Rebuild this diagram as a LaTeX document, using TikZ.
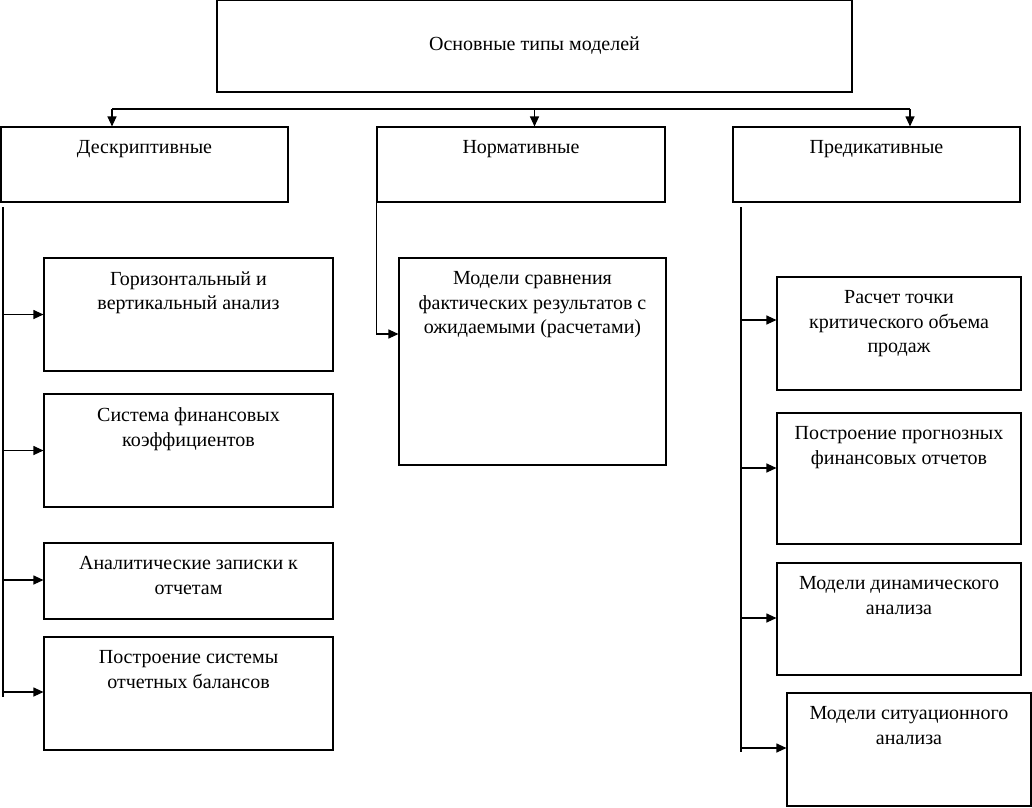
\documentclass[tikz,border=0pt]{standalone}
\usepackage{fontspec}
\setmainfont{Liberation Serif}
\usetikzlibrary{positioning,arrows.meta}
\tikzset{
  >={Triangle[length=10pt,width=9pt]},
  box/.style ={draw, line width=1.1pt, rectangle, inner sep=0pt},
  lbl/.style ={anchor=north, align=center, inner sep=0pt, yshift=-14pt,
               font=\fontsize{20}{24.5}\selectfont},
  link/.style={line width=1.1pt},
  arr/.style ={line width=1.1pt, ->},
}

\begin{document}
\begin{tikzpicture}[x=1pt,y=-1pt]
  \useasboundingbox (0,0) rectangle (1032,807);

  % top box
  \node[box, minimum width=635pt, minimum height=92pt,
        font=\fontsize{20}{24.5}\selectfont] (top) at (534.5,46) {Основные типы моделей};

  % second level
  \node[box, minimum width=287pt, minimum height=75pt,
        label={[lbl]north:Дескриптивные}] (d) at (144.5,164.5) {};
  \node[box, minimum width=288pt, minimum height=75pt,
        label={[lbl]north:Нормативные}] (n) at (521,164.5) {};
  \node[box, minimum width=287pt, minimum height=75pt,
        label={[lbl]north:Предикативные}] (p) at (876.5,164.5) {};

  % descriptive models
  \node[box, minimum width=289pt, minimum height=113pt,
        label={[lbl]north:Горизонтальный и\\вертикальный анализ}] (d1) at (188.5,314.5) {};
  \node[box, minimum width=289pt, minimum height=113pt,
        label={[lbl]north:Система финансовых\\коэффициентов}] (d2) at (188.5,450.5) {};
  \node[box, minimum width=289pt, minimum height=76pt,
        label={[lbl]north:Аналитические записки к\\отчетам}] (d3) at (188.5,581) {};
  \node[box, minimum width=289pt, minimum height=113pt,
        label={[lbl]north:Построение системы\\отчетных балансов}] (d4) at (188.5,693.5) {};

  % normative models
  \node[box, minimum width=267pt, minimum height=207pt,
        label={[lbl]north:Модели сравнения\\фактических результатов с\\ожидаемыми (расчетами)}] (n1) at (532.5,361.5) {};

  % predictive models
  \node[box, minimum width=244pt, minimum height=113pt,
        label={[lbl]north:Расчет точки\\критического объема\\продаж}] (p1) at (899,333.5) {};
  \node[box, minimum width=244pt, minimum height=131pt,
        label={[lbl]north:Построение прогнозных\\финансовых отчетов}] (p2) at (899,478.5) {};
  \node[box, minimum width=244pt, minimum height=112pt,
        label={[lbl]north:Модели динамического\\анализа}] (p3) at (899,619) {};
  \node[box, minimum width=244pt, minimum height=113pt,
        label={[lbl]north:Модели ситуационного\\анализа}] (p4) at (909,749.5) {};

  % distribution line
  \coordinate (hl) at (112,109);
  \coordinate (hr) at (910,109);
  \draw[link] (hl) -- (hr);
  \draw[arr] (hl) -- (hl |- d.north);
  \draw[arr] (top.south |- hl) -- (top.south |- n.north);
  \draw[arr] (hr) -- (hr |- p.north);

  % left trunk
  \coordinate (dtop) at (3,207);
  \coordinate (dbot) at (3,697);
  \draw[link] (dtop) -- (dbot);
  \foreach \b/\s in {d1/0, d2/0, d3/1, d4/1.5}
    \draw[arr] ([yshift=\s pt]\b.west -| dtop) -- ([yshift=\s pt]\b.west);

  % middle trunk
  \draw[arr] (n.south west) |- ([yshift=27.5pt]n1.west);

  % right trunk
  \coordinate (ptop) at (741,207);
  \coordinate (pbot) at (741,752);
  \draw[link] (ptop) -- (pbot);
  \foreach \b/\s in {p1/13.5, p2/10.5, p3/1, p4/1.5}
    \draw[arr] ([yshift=\s pt]\b.west -| ptop) -- ([yshift=\s pt]\b.west);
\end{tikzpicture}
\end{document}
